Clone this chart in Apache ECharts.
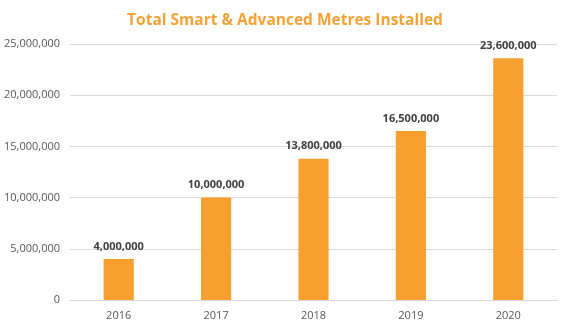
<!DOCTYPE html>
<html><head><meta charset="utf-8">
<script src="https://cdn.jsdelivr.net/npm/echarts@6/dist/echarts.min.js"></script>
<style>html,body{margin:0;padding:0;background:#fff}#c{width:570px;height:328px}</style>
</head><body><div id="c"></div>
<script>
const categories = ['2016','2017','2018','2019','2020'];
const values = [4000000, 10000000, 13800000, 16500000, 23600000];
const titleText = 'Total Smart & Advanced Metres Installed';
const fmt = v => Number(v).toLocaleString('en-US');
const chart = echarts.init(document.getElementById('c'));
chart.setOption({
  animation: false,
  title: {text: titleText, left: 'center', top: 8,
    textStyle: {color: '#F4A236', fontSize: 15.5, fontWeight: 'bold', fontFamily: 'Open Sans'}},
  grid: {left: 70, right: 13, top: 44, bottom: 28},
  xAxis: {type: 'category', data: categories,
    axisLine: {lineStyle: {color: '#d9d9d9'}}, axisTick: {show: false},
    axisLabel: {color: '#595959', fontSize: 11, fontFamily: 'Open Sans', margin: 10}},
  yAxis: {type: 'value', min: 0, max: 25000000, interval: 5000000,
    axisLine: {show: false}, axisTick: {show: false},
    splitLine: {lineStyle: {color: '#d9d9d9'}},
    axisLabel: {color: '#595959', fontSize: 11, fontFamily: 'Open Sans', margin: 10, formatter: fmt}},
  series: [{type: 'bar', data: values, barWidth: '31%',
    itemStyle: {color: '#F7A030'},
    label: {show: true, position: 'top', distance: 7, color: '#404040', fontWeight: 'bold',
      fontSize: 11, fontFamily: 'Open Sans', formatter: p => fmt(p.value)}}]
});
</script></body></html>
